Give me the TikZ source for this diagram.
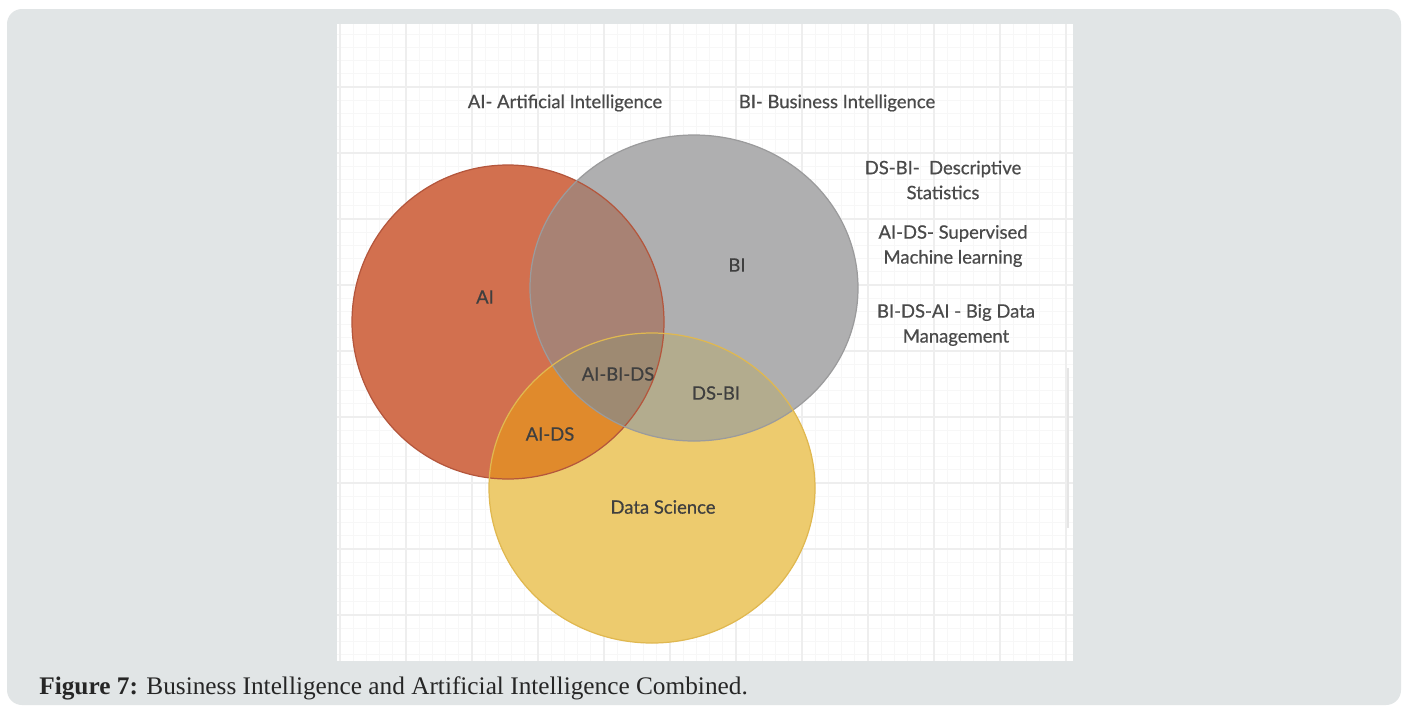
\documentclass[tikz,border=0pt]{standalone}
\usepackage{fontspec}
\setmainfont{Liberation Serif}
\newfontfamily\vennfont{Lato}[FakeBold=0.6]

\definecolor{aicol}{HTML}{D2704F}
\definecolor{aiedge}{HTML}{B4563C}
\definecolor{bicol}{HTML}{AFAFB0}
\definecolor{biedge}{HTML}{9B9B9C}
\definecolor{dscol}{HTML}{EDCB6E}
\definecolor{dsedge}{HTML}{E0B850}
\definecolor{aibicol}{HTML}{A88274}
\definecolor{aidscol}{HTML}{E08A2C}
\definecolor{bidscol}{HTML}{B3AC8E}
\definecolor{allcol}{HTML}{9E8A72}
\definecolor{framecol}{HTML}{E1E5E6}
\definecolor{textcol}{HTML}{4A4A4A}
\definecolor{majorcol}{HTML}{EEEEEE}
\definecolor{minorcol}{HTML}{F7F7F7}

\begin{document}
\begin{tikzpicture}[x=0.02cm, y=-0.02cm,
                titlenode/.style={font=\vennfont\fontsize{10.5}{13}\selectfont, text=textcol, inner sep=1pt},
                legendnode/.style={font=\vennfont\fontsize{10.5}{14.2}\selectfont, text=textcol, align=center, inner sep=1pt},
                setnode/.style={font=\vennfont\fontsize{10.5}{13}\selectfont, text=textcol!85!black, inner sep=1pt},
                minorgrid/.style={draw=minorcol, line width=0.4pt},
                majorgrid/.style={draw=majorcol, line width=0.6pt},
            ]
            \useasboundingbox (0,0) rectangle (1407,711);
            % Frame
            \fill[white] (0,0) rectangle (1407,711);
            \fill[framecol, rounded corners=0.3cm] (7,9) rectangle (1401,705);
            \fill[white] (337,24) rectangle (1073,661);

            % Grid
            \foreach \i in {0,...,47} {
                \draw[minorgrid] (337,{34.2+13.2*\i}) -- (1073,{34.2+13.2*\i});
            }
            \foreach \i in {0,...,55} {
                \draw[minorgrid] ({340+13.2*\i},24) -- ({340+13.2*\i},661);
            }
            \foreach \i in {0,...,8} {
                \draw[majorgrid] (337,{87+66*\i}) -- (1073,{87+66*\i});
            }
            \foreach \i in {0,...,11} {
                \draw[majorgrid] ({340+66*\i},24) -- ({340+66*\i},661);
            }
            \draw[black!10, line width=1pt] (1068,368) -- (1068,528);

            % Circles
            \coordinate (ai_c) at (508,322);
            \coordinate (bi_c) at (694,288);
            \coordinate (ds_c) at (652,488);

            \fill[aicol] (ai_c) ellipse [x radius=156, y radius=157];
            \fill[bicol] (bi_c) ellipse [x radius=164, y radius=153];
            \fill[dscol] (ds_c) ellipse [x radius=163, y radius=155];

            \begin{scope}
                \clip (ai_c) ellipse [x radius=156, y radius=157];
                \fill[aibicol] (bi_c) ellipse [x radius=164, y radius=153];
                \fill[aidscol] (ds_c) ellipse [x radius=163, y radius=155];
                \clip (bi_c) ellipse [x radius=164, y radius=153];
                \fill[allcol] (ds_c) ellipse [x radius=163, y radius=155];
            \end{scope}
            \begin{scope}
                \clip (bi_c) ellipse [x radius=164, y radius=153];
                \clip (ds_c) ellipse [x radius=163, y radius=155];
                \fill[bidscol] (0,0) rectangle (1407,711);
                \clip (ai_c) ellipse [x radius=156, y radius=157];
                \fill[allcol] (0,0) rectangle (1407,711);
            \end{scope}

            \draw[aiedge, line width=0.7pt] (ai_c) ellipse [x radius=156, y radius=157];
            \draw[biedge, line width=0.7pt] (bi_c) ellipse [x radius=164, y radius=153];
            \draw[dsedge, line width=0.7pt] (ds_c) ellipse [x radius=163, y radius=155];

            % Nodes
            \node[titlenode]   (ai_title)   at (565,103)   {AI- Artificial Intelligence};
            \node[titlenode]   (bi_title)   at (837,103)   {BI- Business Intelligence};

            \node[legendnode]  (dsbi_legend)   at (943,180)   {DS-BI-\ \ Descriptive\\Statistics};
            \node[legendnode]  (aids_legend)   at (953,246)   {AI-DS- Supervised\\Machine learning};
            \node[legendnode]  (bidsai_legend) at (956,325)   {BI-DS-AI - Big Data\\Management};

            \node[setnode]     (ai_set)     at (485,297)   {AI};
            \node[setnode]     (bi_set)     at (737,265)   {BI};
            \node[setnode]     (aibids_set) at (618,374)   {AI-BI-DS};
            \node[setnode]     (dsbi_set)   at (716,393)   {DS-BI};
            \node[setnode]     (aids_set)   at (550,434)   {AI-DS};
            \node[setnode]     (ds_set)     at (663,507)   {Data Science};

            \node[anchor=west, font=\fontsize{14.4}{16}\selectfont, text=black!85, inner sep=0pt]
                (caption) at (39,688) {\textbf{Figure 7:} Business Intelligence and Artificial Intelligence Combined.};
        \end{tikzpicture}
\end{document}
